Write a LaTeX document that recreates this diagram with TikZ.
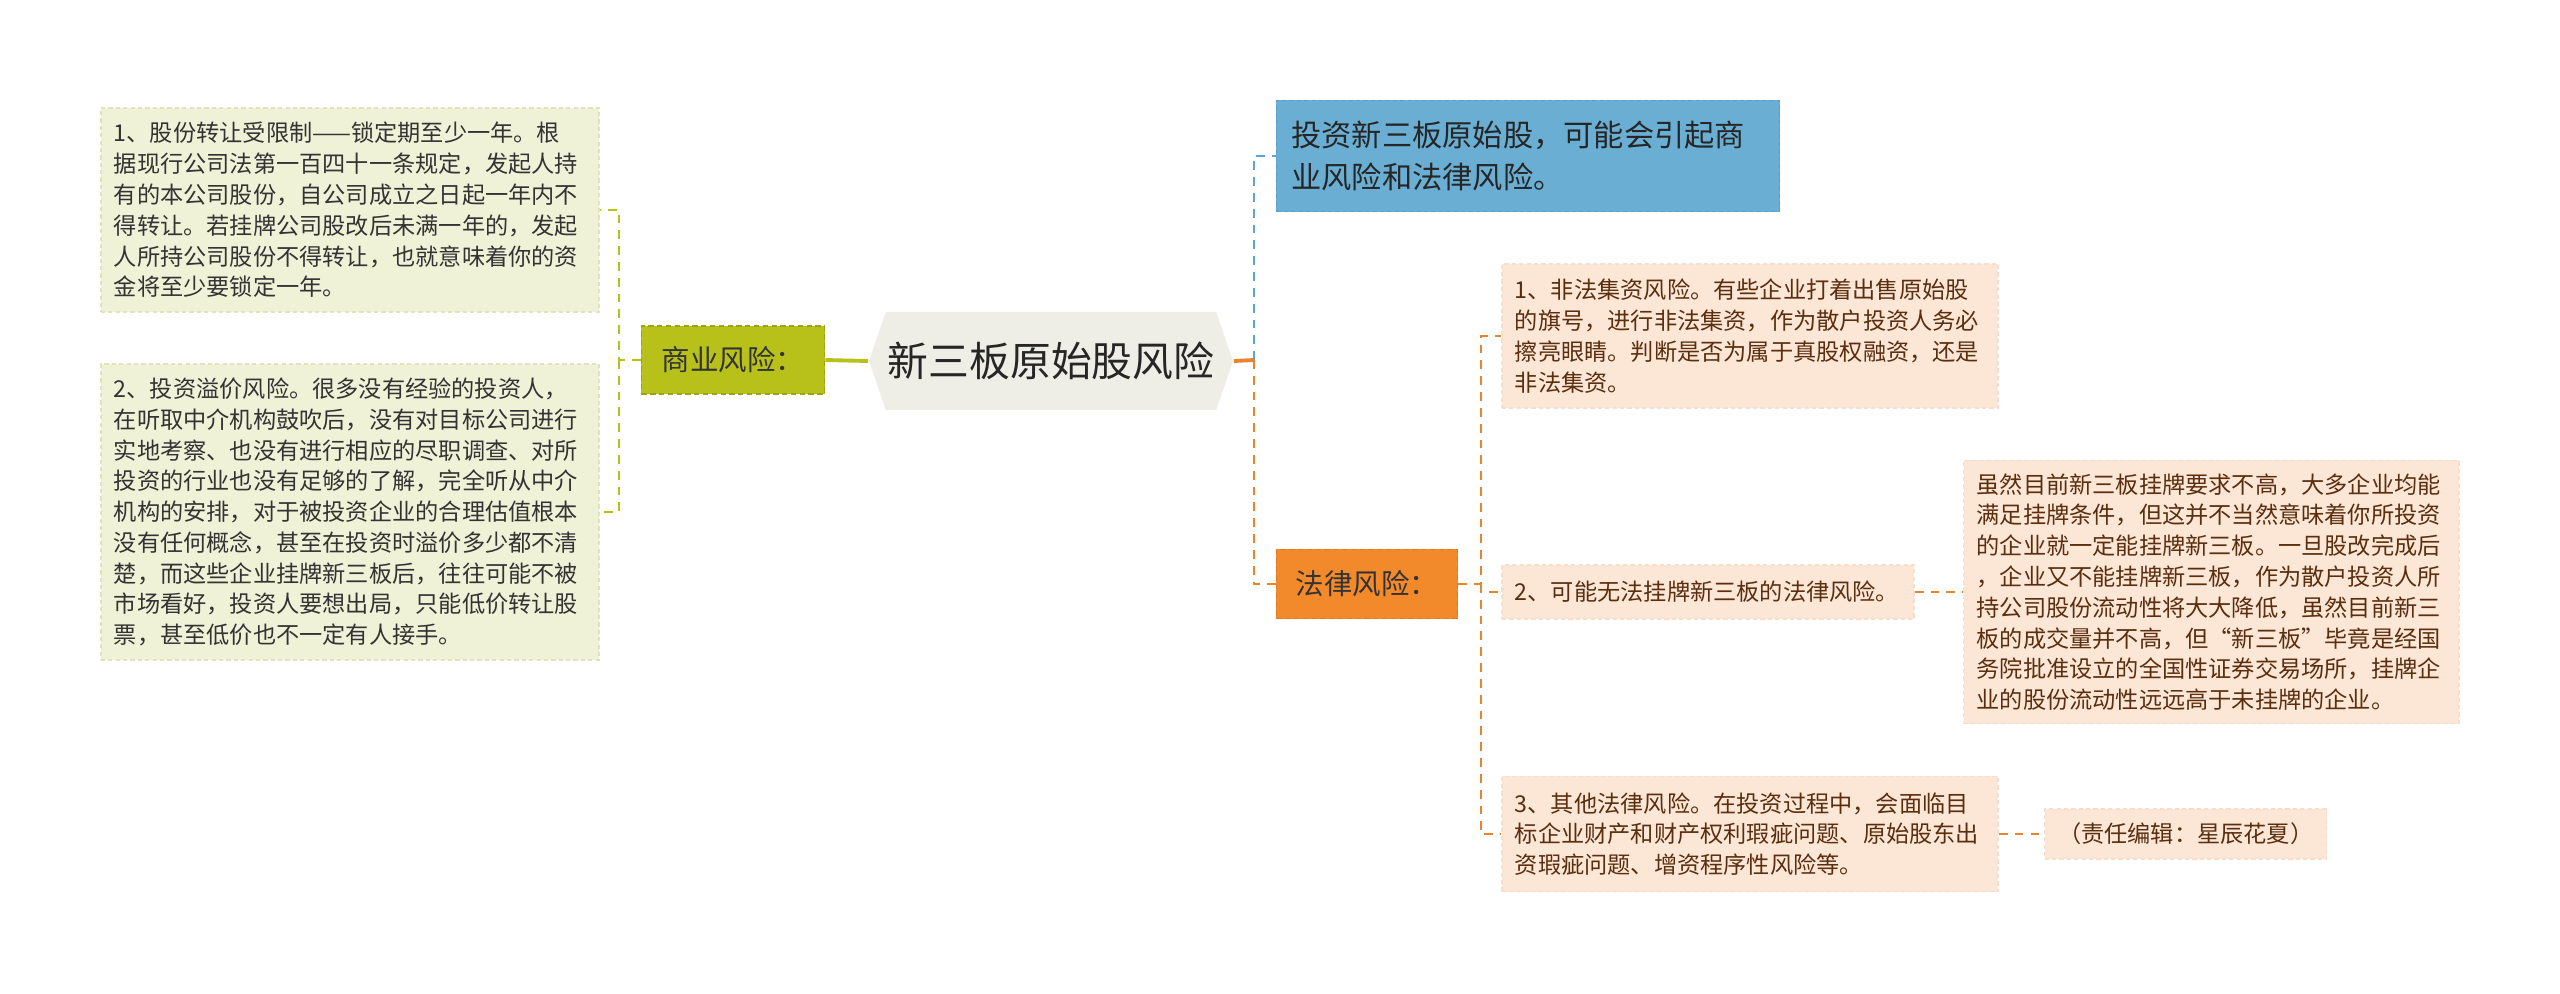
\documentclass[tikz,border=0pt]{standalone}
\usepackage{fontspec}
\newfontfamily\cjk{Noto Sans CJK SC}
\usetikzlibrary{positioning,shapes.symbols}

\definecolor{bizgreen}{HTML}{B8C01A}
\definecolor{bizpale}{HTML}{F0F2D8}
\definecolor{bizedge}{HTML}{E0E4BC}
\definecolor{rootgray}{HTML}{EEEEE6}
\definecolor{infoblue}{HTML}{6AAFD3}
\definecolor{infoedge}{HTML}{5A9EC4}
\definecolor{lineblue}{HTML}{5DA4CF}
\definecolor{laworange}{HTML}{F28A2B}
\definecolor{lawedge}{HTML}{E07A22}
\definecolor{lineorange}{HTML}{E8842F}
\definecolor{lawpale}{HTML}{FCE7D7}
\definecolor{lawrim}{HTML}{F8DDCA}
\definecolor{lawink}{HTML}{5A2E0E}

\begin{document}
\begin{tikzpicture}[x=0.01cm, y=-0.01cm,
  note/.style={align=left, inner xsep=0.13cm, inner ysep=0.08cm,
    font=\cjk\fontsize{6.6pt}{8.75pt}\selectfont,
    dash pattern=on 1.2pt off 0.9pt, line width=0.4pt},
  bizleaf/.style={note, fill=bizpale, draw=bizedge, text=black!80,
    text width=4.72cm},
  lawleaf/.style={note, fill=lawpale, draw=lawrim, text=lawink},
  branch/.style={inner sep=0pt, text=black!80, line width=0.5pt,
    font=\cjk\fontsize{8.1pt}{9.5pt}\selectfont, dash pattern=on 1.5pt off 1pt},
  gline/.style={draw=bizgreen, line width=0.6pt, dash pattern=on 2.5pt off 2pt},
  oline/.style={draw=lineorange, line width=0.8pt, dash pattern=on 2.5pt off 2pt},
  bline/.style={draw=lineblue, line width=0.8pt, dash pattern=on 2.5pt off 2pt}
]
\useasboundingbox (0,0) rectangle (2560,993);

% centre
\node[signal, signal to=west and east, signal pointer angle=142,
  fill=rootgray, minimum width=3.64cm, minimum height=0.98cm, inner sep=0pt,
  font=\cjk\fontsize{11.6pt}{13pt}\selectfont, text=black!85] (root) at (1051,361) {新三板原始股风险};

% left branch
\node[branch, fill=bizgreen, draw=bizgreen!85!black, minimum width=1.83cm,
  minimum height=0.68cm] (biz) at (733,360) {商业风险：};
\node[bizleaf, minimum height=2.04cm] (biz1) at (350,210) {1、股份转让受限制——锁定期至少一年。根\\
据现行公司法第一百四十一条规定，发起人持\\
有的本公司股份，自公司成立之日起一年内不\\
得转让。若挂牌公司股改后未满一年的，发起\\
人所持公司股份不得转让，也就意味着你的资\\
金将至少要锁定一年。};
\node[bizleaf, minimum height=2.96cm] (biz2) at (350,512) {2、投资溢价风险。很多没有经验的投资人，\\
在听取中介机构鼓吹后，没有对目标公司进行\\
实地考察、也没有进行相应的尽职调查、对所\\
投资的行业也没有足够的了解，完全听从中介\\
机构的安排，对于被投资企业的合理估值根本\\
没有任何概念，甚至在投资时溢价多少都不清\\
楚，而这些企业挂牌新三板后，往往可能不被\\
市场看好，投资人要想出局，只能低价转让股\\
票，甚至低价也不一定有人接手。};

% right branch
\node[note, fill=infoblue, draw=infoedge, text=black!85, text width=4.73cm,
  inner xsep=0.15cm, minimum height=1.11cm,
  font=\cjk\fontsize{8.6pt}{12pt}\selectfont] (info) at (1528,156) {投资新三板原始股，可能会引起商\\
业风险和法律风险。};
\node[branch, fill=laworange, draw=lawedge, minimum width=1.81cm,
  minimum height=0.69cm] (law) at (1367,584) {法律风险：};
\node[lawleaf, text width=4.70cm, minimum height=1.44cm] (law1) at (1750,336) {1、非法集资风险。有些企业打着出售原始股\\
的旗号，进行非法集资，作为散户投资人务必\\
擦亮眼睛。判断是否为属于真股权融资，还是\\
非法集资。};
\node[lawleaf, text width=3.86cm, minimum height=0.54cm] (law2) at (1708,592) {2、可能无法挂牌新三板的法律风险。};
\node[lawleaf, text width=4.69cm, minimum height=2.63cm, right=0.48cm of law2] (law2a) {虽然目前新三板挂牌要求不高，大多企业均能\\
满足挂牌条件，但这并不当然意味着你所投资\\
的企业就一定能挂牌新三板。一旦股改完成后\\
，企业又不能挂牌新三板，作为散户投资人所\\
持公司股份流动性将大大降低，虽然目前新三\\
板的成交量并不高，但“新三板”毕竟是经国\\
务院批准设立的全国性证券交易场所，挂牌企\\
业的股份流动性远远高于未挂牌的企业。};
\node[lawleaf, text width=4.70cm, minimum height=1.15cm] (law3) at (1750,834) {3、其他法律风险。在投资过程中，会面临目\\
标企业财产和财产权利瑕疵问题、原始股东出\\
资瑕疵问题、增资程序性风险等。};
\node[lawleaf, align=center, text width=2.56cm, minimum height=0.50cm,
  right=0.45cm of law3] (credit) {（责任编辑：星辰花夏）};

% junctions
\coordinate (gj) at (619,360);
\coordinate (rj) at (1254,360);
\coordinate (oj) at (1481,584);

% connectors
\draw[draw=bizgreen, line width=1.1pt] (root.west) -- (biz.east);
\draw[gline] (biz.west) -- (gj) |- (biz1.east);
\draw[gline] (gj) |- (biz2.east);
\draw[draw=lineorange, line width=1.1pt] (root.east) -- (rj);
\draw[bline] (rj) |- (info.west);
\draw[oline] (rj) |- (law.west);
\draw[oline] (law.east) -- (oj) |- (law1.west);
\draw[oline] (oj) |- (law2.west);
\draw[oline] (oj) |- (law3.west);
\draw[oline] (law2.east) -- (law2a.west);
\draw[oline] (law3.east) -- (credit.west);
\end{tikzpicture}
\end{document}
